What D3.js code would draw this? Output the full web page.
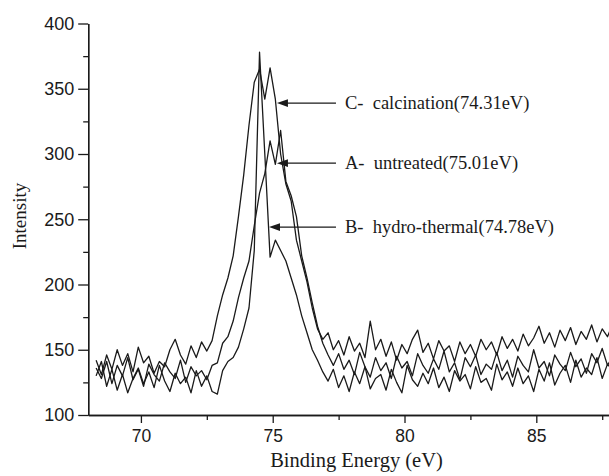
<!DOCTYPE html>
<html><head><meta charset="utf-8">
<script src="https://cdn.jsdelivr.net/npm/d3@7"></script>
<style>body{margin:0;background:#fff}svg{display:block}</style>
</head><body><svg id="c" width="609" height="476"></svg>
<script>
const energy = [68.3,68.5,68.7,68.9,69.1,69.3,69.5,69.7,69.9,70.1,
70.3,70.5,70.7,70.9,71.1,71.3,71.5,71.7,71.9,72.1,
72.3,72.5,72.7,72.9,73.1,73.3,73.5,73.7,73.9,74.1,
74.3,74.5,74.7,74.9,75.1,75.3,75.5,75.7,75.9,76.1,
76.3,76.5,76.7,76.9,77.1,77.3,77.5,77.7,77.9,78.1,
78.3,78.5,78.7,78.9,79.1,79.3,79.5,79.7,79.9,80.1,
80.3,80.5,80.7,80.9,81.1,81.3,81.5,81.7,81.9,82.1,
82.3,82.5,82.7,82.9,83.1,83.3,83.5,83.7,83.9,84.1,
84.3,84.5,84.7,84.9,85.1,85.3,85.5,85.7,85.9,86.1,
86.3,86.5,86.7,86.9,87.1,87.3,87.5,87.7,87.9];
const calcination = [142,131,146,135,150,138,147,133,152,140,
145,132,141,137,150,158,146,139,153,144,
156,149,157,176,192,205,222,252,284,322,
355,365,342,366,342,300,277,264,234,218,
202,182,166,158,163,150,157,146,160,149,
155,144,172,150,158,145,156,142,154,147,
158,165,148,155,143,157,149,153,141,156,
147,154,145,158,150,156,146,160,151,158,
149,162,153,159,168,155,163,152,165,157,
167,154,164,158,169,156,166,160,170];
const untreated = [136,128,141,124,138,130,144,127,135,122,
139,131,126,140,133,128,142,125,137,130,
134,127,138,140,155,160,172,190,205,218,
245,270,285,310,292,318,279,268,252,222,
205,186,168,155,146,138,147,135,142,131,
148,137,129,144,134,140,128,145,136,141,
130,147,138,132,143,135,149,133,140,127,
144,137,146,131,139,135,148,134,142,129,
145,138,133,150,136,141,130,146,139,134,
148,137,143,132,147,140,151,138,145];
const hydrothermal = [130,141,122,135,119,131,117,128,136,124,
133,121,138,126,118,132,124,129,117,134,
122,130,118,116,134,141,144,152,166,182,
226,378,300,221,234,226,218,205,192,176,
163,150,142,133,126,135,121,130,118,133,
124,137,120,128,131,119,135,125,117,138,
127,122,132,124,136,121,129,118,134,126,
131,120,137,125,128,119,139,127,133,122,
136,124,130,118,135,126,140,123,132,138,
125,142,129,136,131,144,128,139,134];
const yTicks = [100,150,200,250,300,350,400];
const yMinorTicks = [125,175,225,275,325,375];
const xTicks = [70,75,80,85];
const xMinorTicks = [72.5,77.5,82.5,87.5];
const labels = ["C-  calcination(74.31eV)","A-  untreated(75.01eV)","B-  hydro-thermal(74.78eV)"];
const arrowTipE = [75.16,75.16,74.86];
const arrowTipI = [339,293,244];
const arrowEndE = 77.40;
const labelE = 77.74;

const svg = d3.select("#c");
const x = d3.scaleLinear().domain([68,90]).range([88.2, 668.1]);
const y = d3.scaleLinear().domain([100,400]).range([415, 23.5]);
const ink = "#1a1a1a";

function styleAxis(g, fs){
  g.selectAll("path.domain").attr("stroke", ink).attr("stroke-width", 1.4);
  g.selectAll(".tick line").attr("stroke", ink).attr("stroke-width", 1.3);
  g.selectAll(".tick text").attr("fill", ink).style("font-family","'Liberation Sans', Arial, sans-serif").style("font-size", fs+"px");
}

// minor ticks
const gxm = svg.append("g").attr("transform","translate(0,415)")
  .call(d3.axisBottom(x).tickValues(xMinorTicks).tickSize(5).tickSizeOuter(0).tickFormat(""));
styleAxis(gxm, 17);
const gym = svg.append("g").attr("transform","translate(88.2,0)")
  .call(d3.axisLeft(y).tickValues(yMinorTicks).tickSize(5).tickSizeOuter(0).tickFormat(""));
styleAxis(gym, 17);

const gx = svg.append("g").attr("transform","translate(0,415)")
  .call(d3.axisBottom(x).tickValues(xTicks).tickSize(8).tickSizeOuter(0).tickPadding(7).tickFormat(d3.format("d")));
styleAxis(gx, 17.5);
const gy = svg.append("g").attr("transform","translate(88.2,0)")
  .call(d3.axisLeft(y).tickValues(yTicks).tickSize(10).tickSizeOuter(0).tickPadding(4).tickFormat(d3.format("d")));
styleAxis(gy, 18);

// curves
const line = d3.line().x((d,i)=>x(energy[i])).y(d=>y(d));
[untreated, hydrothermal, calcination].forEach(s=>{
  svg.append("path").datum(s).attr("d", line)
    .attr("fill","none").attr("stroke", ink).attr("stroke-width",1.3).attr("stroke-linejoin","round");
});

// annotations
labels.forEach((t,i)=>{
  const tx = x(arrowTipE[i]), ty = y(arrowTipI[i]);
  svg.append("line").attr("x1", tx+8).attr("x2", x(arrowEndE)).attr("y1", ty).attr("y2", ty)
    .attr("stroke", ink).attr("stroke-width",1.3);
  svg.append("path").attr("d", `M${tx},${ty} L${tx+11},${ty-3.8} L${tx+11},${ty+3.8} Z`).attr("fill", ink);
  svg.append("text").attr("x", x(labelE)).attr("y", ty).attr("dy","0.34em")
    .attr("xml:space","preserve").style("white-space","pre")
    .style("font-family","'Liberation Serif','Times New Roman',serif").style("font-size","18.5px")
    .attr("fill", ink).text(t);
});

// axis titles
svg.append("text").attr("x", 356.5).attr("y", 467).attr("text-anchor","middle")
  .style("font-family","'Liberation Serif','Times New Roman',serif").style("font-size","20.5px")
  .attr("fill", ink).text("Binding Energy (eV)");
svg.append("text").attr("transform","translate(26,216) rotate(-90)").attr("text-anchor","middle")
  .style("font-family","'Liberation Serif','Times New Roman',serif").style("font-size","19px")
  .attr("fill", ink).text("Intensity");
</script></body></html>
